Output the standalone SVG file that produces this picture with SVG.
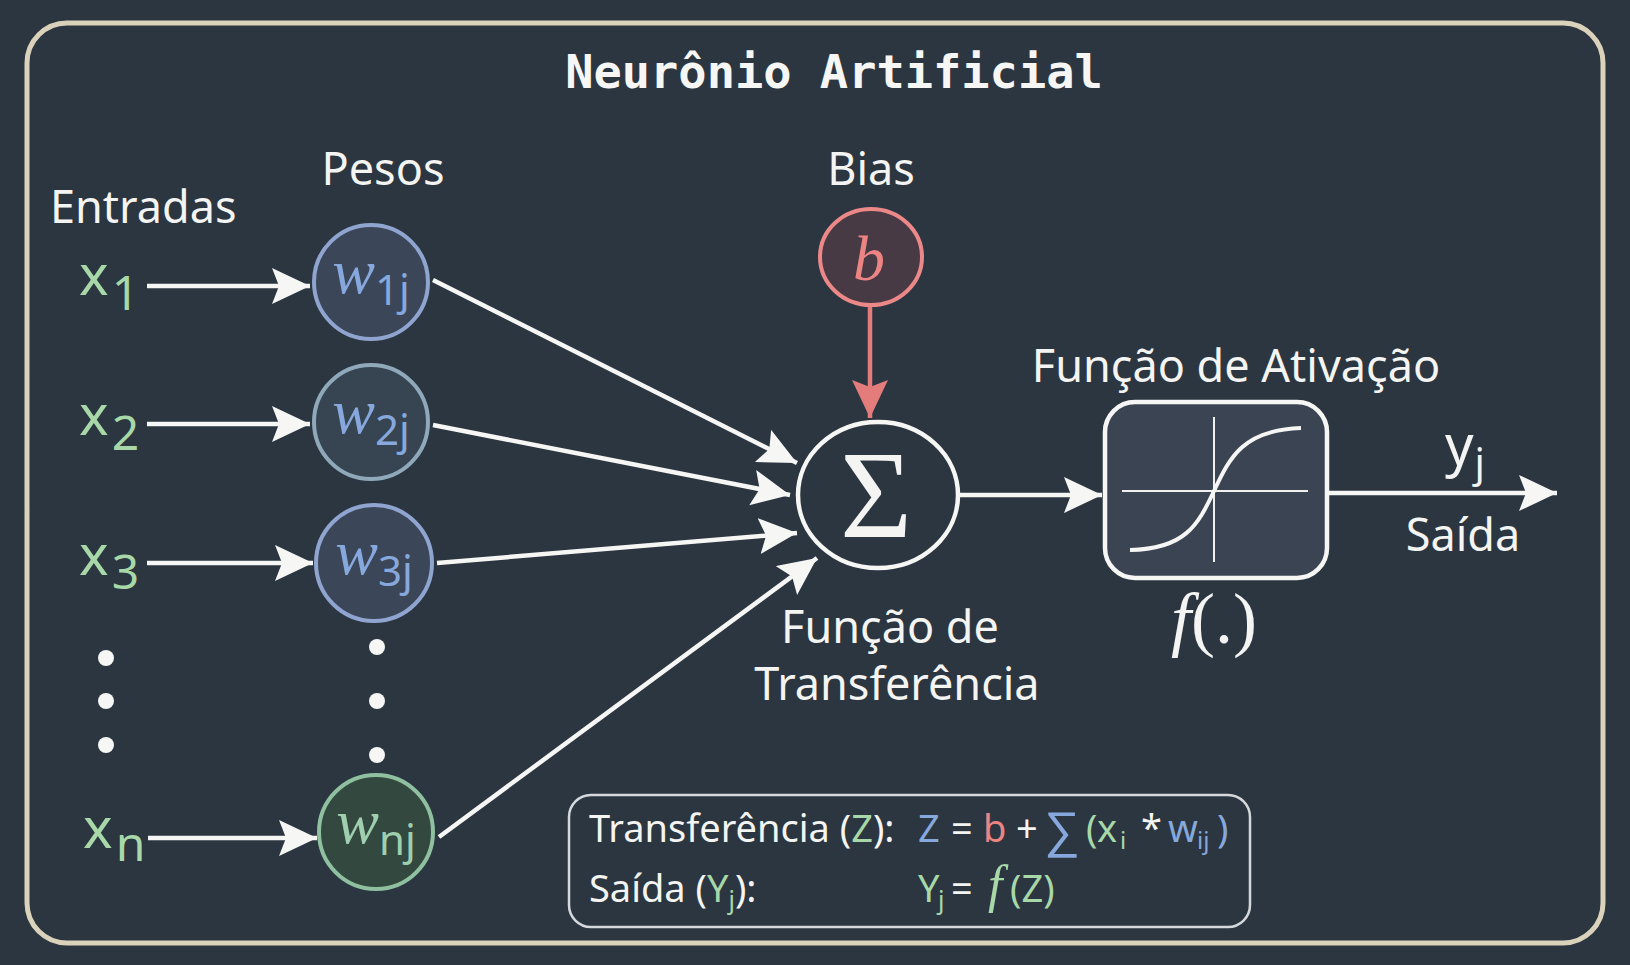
<svg xmlns="http://www.w3.org/2000/svg" width="1630" height="965" viewBox="0 0 1630 965">
<defs>
<style>
.sans{font-family:"Noto Sans","Liberation Sans",sans-serif;}
.serif{font-family:"Liberation Serif","DejaVu Serif",serif;}
.lbl{font-family:"Noto Sans","Liberation Sans",sans-serif;fill:#f4f4f2;font-size:45px;}
.inp{font-family:"Noto Sans","Liberation Sans",sans-serif;fill:#a8d8a8;font-size:56px;}
.wt{font-family:"Liberation Serif","DejaVu Serif",serif;font-style:italic;font-size:64px;}
.sub{font-family:"Noto Sans","Liberation Sans",sans-serif;font-style:normal;}
.conn{stroke:#f6f6f4;stroke-width:4.5;fill:none;}
.dot{fill:#f6f6f4;}
.g{fill:#a8d8a8;}
.bl{fill:#86a8dc;}
.pk{fill:#ec8484;}
.wh{fill:#f4f4f2;}
</style>
<marker id="ah" markerUnits="userSpaceOnUse" markerWidth="40" markerHeight="38" refX="38" refY="18" orient="auto">
<path d="M0,0 L38,18 L0,36 L7,18 z" fill="#f6f6f4"/>
</marker>
<marker id="ahp" markerUnits="userSpaceOnUse" markerWidth="40" markerHeight="38" refX="38" refY="18" orient="auto">
<path d="M0,0 L38,18 L0,36 L7,18 z" fill="#e47c7c"/>
</marker>
</defs>
<rect x="0" y="0" width="1630" height="965" fill="#2b3641"/>
<rect x="27" y="23" width="1576" height="920" rx="40" fill="#2b3641" stroke="#dbd2bc" stroke-width="5"/>

<text x="834" y="88" text-anchor="middle" font-family="DejaVu Sans Mono, Liberation Mono, monospace" font-size="47" font-weight="bold" fill="#f6f6f4">Neurônio Artificial</text>

<g id="labels">
<text class="lbl" x="50" y="223" font-size="47.5">Entradas</text>
<text class="lbl" x="383" y="185" text-anchor="middle" font-size="44">Pesos</text>
<text class="lbl" x="871" y="185" text-anchor="middle">Bias</text>
<text class="lbl" x="1236" y="382" text-anchor="middle" font-size="47">Função de Ativação</text>
<text class="lbl" x="890" y="643" text-anchor="middle" font-size="44.5">Função de</text>
<text class="lbl" x="897" y="700" text-anchor="middle" font-size="46">Transferência</text>
<text class="lbl" x="1463" y="551" text-anchor="middle">Saída</text>
</g>

<g id="connectors">
<line class="conn" x1="147" y1="286" x2="310" y2="286" marker-end="url(#ah)"/>
<line class="conn" x1="147" y1="424" x2="310" y2="424" marker-end="url(#ah)"/>
<line class="conn" x1="147" y1="563" x2="313" y2="563" marker-end="url(#ah)"/>
<line class="conn" x1="148" y1="838" x2="317" y2="838" marker-end="url(#ah)"/>
<line class="conn" x1="433" y1="280" x2="797" y2="463" marker-end="url(#ah)"/>
<line class="conn" x1="433" y1="425" x2="790" y2="495" marker-end="url(#ah)"/>
<line class="conn" x1="437" y1="563" x2="797" y2="533" marker-end="url(#ah)"/>
<line class="conn" x1="439" y1="837" x2="817" y2="558" marker-end="url(#ah)"/>
<line x1="870" y1="307" x2="870" y2="418" stroke="#e47c7c" stroke-width="4.5" marker-end="url(#ahp)"/>
<line class="conn" x1="960" y1="495" x2="1102" y2="495" marker-end="url(#ah)"/>
<line class="conn" x1="1327" y1="493" x2="1557" y2="493" marker-end="url(#ah)"/>
</g>

<g id="x1"><text class="inp" x="79" y="295">x<tspan font-size="48" dx="3" dy="15">1</tspan></text></g>
<g id="x2"><text class="inp" x="79" y="435">x<tspan font-size="48" dx="3" dy="15">2</tspan></text></g>
<g id="x3"><text class="inp" x="79" y="575">x<tspan font-size="48" dx="3" dy="14">3</tspan></text></g>
<g id="xn"><text class="inp" x="83" y="848">x<tspan font-size="48" dx="3" dy="13">n</tspan></text></g>

<g id="dots-x">
<circle class="dot" cx="106" cy="658" r="8"/>
<circle class="dot" cx="106" cy="701" r="8"/>
<circle class="dot" cx="106" cy="745" r="8"/>
</g>
<g id="dots-w">
<circle class="dot" cx="377" cy="647" r="8"/>
<circle class="dot" cx="377" cy="701" r="8"/>
<circle class="dot" cx="377" cy="755" r="8"/>
</g>

<g id="w1j">
<circle cx="371" cy="282" r="57" fill="#3b4659" stroke="#8fa5d0" stroke-width="4"/>
<text class="wt bl" x="371" y="293" text-anchor="middle">w<tspan class="sub" font-size="42" dy="12">1j</tspan></text>
</g>
<g id="w2j">
<circle cx="371" cy="422" r="57" fill="#374553" stroke="#8fa9bb" stroke-width="4"/>
<text class="wt bl" x="371" y="433" text-anchor="middle">w<tspan class="sub" font-size="42" dy="12">2j</tspan></text>
</g>
<g id="w3j">
<circle cx="374" cy="563" r="58" fill="#3b4659" stroke="#8fa5d0" stroke-width="4"/>
<text class="wt bl" x="374" y="574" text-anchor="middle">w<tspan class="sub" font-size="42" dy="12">3j</tspan></text>
</g>
<g id="wnj">
<circle cx="376" cy="832" r="57" fill="#33483f" stroke="#8fc0a0" stroke-width="4"/>
<text class="wt" fill="#9fcfae" x="376" y="843" text-anchor="middle">w<tspan class="sub" font-size="42" dy="12">nj</tspan></text>
</g>

<g id="bias">
<ellipse cx="871" cy="257" rx="51" ry="48" fill="#483a44" stroke="#ec8888" stroke-width="4"/>
<text class="wt pk" x="869" y="280" text-anchor="middle" font-size="68">b</text>
</g>

<g id="sum">
<ellipse cx="878" cy="495" rx="80" ry="73" fill="#2b3641" stroke="#f6f6f4" stroke-width="4.5"/>
<text class="serif wh" x="876" y="537" text-anchor="middle" font-size="124">Σ</text>
</g>

<g id="activation">
<rect x="1105" y="402" width="222" height="176" rx="30" fill="#3a4452" stroke="#f6f6f4" stroke-width="4.5"/>
<line x1="1122" y1="491" x2="1308" y2="491" stroke="#f0f0ee" stroke-width="2"/>
<line x1="1214" y1="417" x2="1214" y2="562" stroke="#f0f0ee" stroke-width="2"/>
<path d="M1130,550 C1185,549 1198,525 1214,491 C1230,457 1243,430 1301,428" fill="none" stroke="#f6f6f4" stroke-width="4"/>
<text class="serif wh" x="1214" y="643" text-anchor="middle" font-size="72"><tspan font-style="italic">f</tspan>(.)</text>
</g>

<g id="output">
<text class="inp wh" x="1445" y="465" style="fill:#f4f4f2">y<tspan font-size="40" dx="1" dy="12">j</tspan></text>
</g>

<g id="formula">
<rect x="569" y="795" width="681" height="132" rx="22" fill="none" stroke="#d6d9dc" stroke-width="2.5"/>
<text class="sans wh" x="589" y="842" font-size="38">Transferência (<tspan class="g">Z</tspan>):</text>
<text class="sans wh" y="842" font-size="38"><tspan class="bl" x="918">Z</tspan><tspan x="951">=</tspan><tspan class="pk" x="983">b</tspan><tspan x="1016">+</tspan><tspan class="bl" x="1044" font-size="50" dy="5">∑</tspan><tspan class="g" x="1086" dy="-5">(</tspan><tspan class="g" x="1097">x</tspan><tspan class="g" x="1120" font-size="24" dy="7">i</tspan><tspan x="1141" dy="-7">*</tspan><tspan class="bl" x="1168">w</tspan><tspan class="bl" x="1197" font-size="24" dy="7">ij</tspan><tspan class="bl" x="1217" dy="-7">)</tspan></text>
<text class="sans wh" x="589" y="902" font-size="38">Saída (<tspan class="g">Y</tspan><tspan class="g" font-size="25" dy="7">j</tspan><tspan dy="-7">):</tspan></text>
<text class="sans wh" y="902" font-size="38"><tspan class="g" x="918">Y</tspan><tspan class="g" x="938" font-size="25" dy="7">j</tspan><tspan x="951" dy="-7">=</tspan><tspan class="g serif" x="988" font-style="italic" font-size="52">f</tspan><tspan class="g" x="1010">(Z)</tspan></text>
</g>
</svg>
